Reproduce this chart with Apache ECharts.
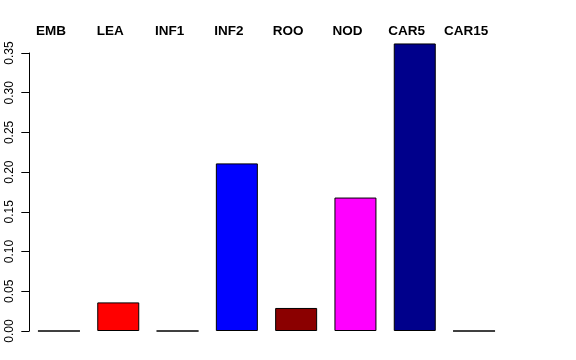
<!DOCTYPE html>
<html>
<head>
<meta charset="utf-8">
<script src="https://cdn.jsdelivr.net/npm/echarts@6/dist/echarts.min.js"></script>
<style>html,body{margin:0;padding:0;background:#fff;}#c{width:576px;height:360px;}</style>
</head>
<body>
<div id="c"></div>
<script>
const categories = ['EMB', 'LEA', 'INF1', 'INF2', 'ROO', 'NOD', 'CAR5', 'CAR15'];
const values = [0, 0.036, 0, 0.211, 0.029, 0.168, 0.362, 0];
const colors = ['#000000', '#FF0000', '#000000', '#0000FF', '#8B0000', '#FF00FF', '#00008B', '#000000'];
const yTicks = [0, 0.05, 0.10, 0.15, 0.20, 0.25, 0.30, 0.35];

const chart = echarts.init(document.getElementById('c'), null, {renderer: 'canvas'});
chart.setOption({
  animation: false,
  grid: {left: 29.3, right: 72.3, top: 53, bottom: 29, containLabel: false},
  xAxis: {
    type: 'category',
    data: categories,
    position: 'top',
    axisLine: {show: false},
    axisTick: {show: false},
    axisLabel: {
      fontFamily: 'Liberation Sans',
      fontWeight: 'bold',
      fontSize: 13.5,
      color: '#000',
      margin: 15,
      padding: [0, 16, 0, 0]
    }
  },
  yAxis: {
    type: 'value',
    min: 0,
    max: yTicks[yTicks.length - 1],
    interval: 0.05,
    splitLine: {show: false},
    axisLine: {show: true, lineStyle: {color: '#000', width: 1}},
    axisTick: {show: true, length: 8, lineStyle: {color: '#000'}},
    axisLabel: {
      rotate: 90,
      fontFamily: 'Liberation Sans',
      fontSize: 12,
      color: '#000',
      margin: 14,
      formatter: v => v.toFixed(2)
    }
  },
  series: [{
    type: 'bar',
    clip: false,
    barWidth: 42,
    data: values.map((v, i) => ({value: v, itemStyle: {color: colors[i]}})),
    itemStyle: {borderColor: '#000', borderWidth: 1}
  }]
});
</script>
</body>
</html>
